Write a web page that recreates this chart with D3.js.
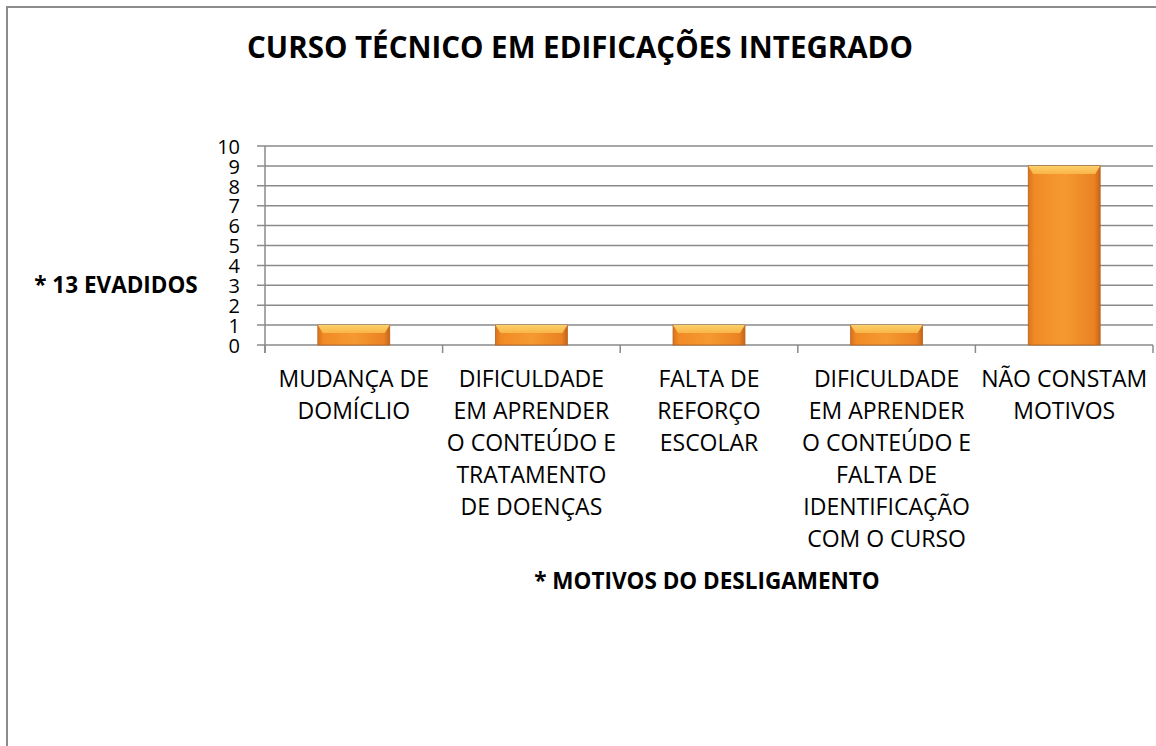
<!DOCTYPE html>
<html>
<head>
<meta charset="utf-8">
<script src="https://cdn.jsdelivr.net/npm/d3@7"></script>
<style>
  body { margin: 0; background: #fff; }
  text { font-family: "Open Sans", sans-serif; fill: #000; }
</style>
</head>
<body>
<div id="chart"></div>
<script>
// chart data
var categories = [
  ["MUDANÇA DE", "DOMÍCLIO"],
  ["DIFICULDADE", "EM APRENDER", "O CONTEÚDO E", "TRATAMENTO", "DE DOENÇAS"],
  ["FALTA DE", "REFORÇO", "ESCOLAR"],
  ["DIFICULDADE", "EM APRENDER", "O CONTEÚDO E", "FALTA DE", "IDENTIFICAÇÃO", "COM O CURSO"],
  ["NÃO CONSTAM", "MOTIVOS"]
];
var values = [1, 1, 1, 1, 9];
var yTicks = [0, 1, 2, 3, 4, 5, 6, 7, 8, 9, 10];
var titleText = "CURSO TÉCNICO EM EDIFICAÇÕES INTEGRADO";
var yTitle = "* 13 EVADIDOS";
var xTitle = "* MOTIVOS DO DESLIGAMENTO";

var svgWidth = 1156;
var svgHeight = 746;

var margin = { top: 146, right: 3, bottom: 401, left: 265 };
var width = svgWidth - margin.left - margin.right;
var height = svgHeight - margin.top - margin.bottom;

var svg = d3.select("#chart")
  .append("svg")
  .attr("width", svgWidth)
  .attr("height", svgHeight);

// outer frame (runs off the right / bottom of the picture)
svg.append("rect")
  .attr("x", 7)
  .attr("y", 7)
  .attr("width", 1300)
  .attr("height", 900)
  .attr("fill", "none")
  .attr("stroke", "#8c8c8c")
  .attr("stroke-width", 2);

// gradients for bevelled bars
var defs = svg.append("defs");
var bodyGrad = defs.append("linearGradient")
  .attr("id", "barBody")
  .attr("x1", "0").attr("x2", "1").attr("y1", "0").attr("y2", "0");
bodyGrad.append("stop").attr("offset", "0%").attr("stop-color", "#d9731c");
bodyGrad.append("stop").attr("offset", "8%").attr("stop-color", "#f18a25");
bodyGrad.append("stop").attr("offset", "50%").attr("stop-color", "#f59a30");
bodyGrad.append("stop").attr("offset", "92%").attr("stop-color", "#ea8223");
bodyGrad.append("stop").attr("offset", "100%").attr("stop-color", "#c5651a");

var topGrad = defs.append("linearGradient")
  .attr("id", "barTop")
  .attr("x1", "0").attr("x2", "0").attr("y1", "0").attr("y2", "1");
topGrad.append("stop").attr("offset", "0%").attr("stop-color", "#fcd06a");
topGrad.append("stop").attr("offset", "100%").attr("stop-color", "#f9b547");

var g = svg.append("g")
  .attr("transform", `translate(${margin.left}, ${margin.top})`);

var x = d3.scaleBand()
  .domain(d3.range(categories.length))
  .range([0, width])
  .padding(0);

var y = d3.scaleLinear()
  .domain([0, 10])
  .range([height, 0]);

// horizontal gridlines
g.append("g")
  .selectAll("line")
  .data(yTicks)
  .enter()
  .append("line")
  .attr("x1", -8)
  .attr("x2", width)
  .attr("y1", d => y(d))
  .attr("y2", d => y(d))
  .attr("stroke", "#8a8a8a")
  .attr("stroke-width", 1.5);

// y axis
var leftAxis = d3.axisLeft(y)
  .tickValues(yTicks)
  .tickSize(0)
  .tickPadding(25);
var yAxis = g.append("g").call(leftAxis);
yAxis.select(".domain").remove();
yAxis.selectAll("text")
  .style("font-size", "20px")
  .style("font-family", "Open Sans, sans-serif")
  .attr("dy", "0.36em");

g.append("line")
  .attr("x1", 0).attr("x2", 0)
  .attr("y1", 0).attr("y2", height + 8)
  .attr("stroke", "#8a8a8a")
  .attr("stroke-width", 1.5);

// category ticks on the x axis
var bounds = d3.range(categories.length + 1).map(i => i < categories.length ? x(i) : width);
g.append("g")
  .selectAll("line")
  .data(bounds)
  .enter()
  .append("line")
  .attr("x1", d => d).attr("x2", d => d)
  .attr("y1", height).attr("y2", height + 8)
  .attr("stroke", "#8a8a8a")
  .attr("stroke-width", 1.5);

// bars
var barW = x.bandwidth() * 0.405;
var bars = g.selectAll(".bar")
  .data(values)
  .enter()
  .append("g")
  .attr("class", "bar");

bars.append("rect")
  .attr("x", (d, i) => x(i) + (x.bandwidth() - barW) / 2)
  .attr("y", d => y(d))
  .attr("width", barW)
  .attr("height", d => height - y(d))
  .attr("fill", "url(#barBody)")
  .attr("stroke", "#b8601c")
  .attr("stroke-width", 0.8);

bars.append("path")
  .attr("d", function(d, i) {
    var x0 = x(i) + (x.bandwidth() - barW) / 2;
    var y0 = y(d);
    var b = 8;
    return `M${x0},${y0} L${x0 + barW},${y0} L${x0 + barW - 5},${y0 + b} L${x0 + 5},${y0 + b} Z`;
  })
  .attr("fill", "url(#barTop)");

// category labels
var labels = g.append("g")
  .selectAll("text")
  .data(categories)
  .enter()
  .append("text")
  .attr("x", (d, i) => x(i) + x.bandwidth() / 2)
  .attr("y", height + 42)
  .attr("text-anchor", "middle")
  .style("font-size", "23px");

labels.selectAll("tspan")
  .data(d => d)
  .enter()
  .append("tspan")
  .attr("x", function() { return d3.select(this.parentNode).attr("x"); })
  .attr("dy", (d, i) => i === 0 ? 0 : 32)
  .text(d => d);

// title
svg.append("text")
  .attr("x", 580)
  .attr("y", 58)
  .attr("text-anchor", "middle")
  .style("font-size", "29.5px")
  .style("font-weight", "bold")
  .text(titleText);

// axis titles
svg.append("text")
  .attr("x", 116)
  .attr("y", 293)
  .attr("text-anchor", "middle")
  .style("font-size", "22.5px")
  .style("font-weight", "bold")
  .text(yTitle);

svg.append("text")
  .attr("x", 707)
  .attr("y", 589)
  .attr("text-anchor", "middle")
  .style("font-size", "22.5px")
  .style("font-weight", "bold")
  .text(xTitle);
</script>
</body>
</html>
